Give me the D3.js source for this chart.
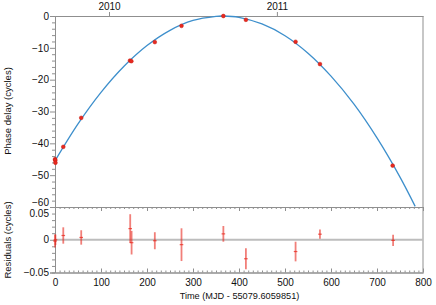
<!DOCTYPE html>
<html>
<head>
<meta charset="utf-8">
<script src="https://cdn.jsdelivr.net/npm/d3@7"></script>
<style>
  body { margin: 0; background: #fff; }
  svg { display: block; font-family: "Liberation Sans", Arial, sans-serif; }
</style>
</head>
<body>
<div id="chart"></div>
<script>
// observed phase delays (days since MJD 55079.6059851, cycles)
const obsTime  = [0, 0.5, 1, 18, 57, 163, 166, 217, 275, 366, 415, 523, 576, 734];
const obsPhase = [-45.0, -45.3, -46.1, -41.1, -32.0, -14.0, -14.2, -8.2, -3.1, 0, -1.2, -8.1, -15.1, -47.0];

// fitted timing model
const fitTime  = [0, 50, 100, 150, 200, 250, 300, 350, 365, 400, 450, 500, 550, 600, 650, 700, 750, 783];
const fitPhase = [-45.5, -33.9, -24.0, -15.8, -9.3, -4.5, -1.4, -0.1, 0, -0.4, -2.5, -6.2, -11.7, -18.9, -27.7, -38.3, -50.6, -59.8];

// residuals and their errors (cycles)
const resTime = [0, 1, 18, 57, 163.5, 166.5, 217, 275, 366, 415, 523, 576, 735];
const resVal  = [-0.002, 0.0, 0.0065, 0.0035, 0.017, -0.0045, -0.0015, -0.0075, 0.009, -0.029, -0.018, 0.0085, -0.001];
const resErr  = [0.010, 0.008, 0.0125, 0.011, 0.022, 0.018, 0.013, 0.025, 0.012, 0.016, 0.015, 0.007, 0.0085];

// calendar years on the top axis
const years = [2010, 2011];
const yearMJD = [55197, 55562];
const mjd0 = 55079.6059851;

const xTicks = [0, 100, 200, 300, 400, 500, 600, 700, 800];
const phaseTicks = [0, -10, -20, -30, -40, -50, -60];
const resTicks = [0.05, 0, -0.05];

const W = 436, H = 305;
const frame = "#8f8f8f";
const red = "#e8291f";
const blue = "#3d8fcc";

const svg = d3.select("#chart").append("svg").attr("width", W).attr("height", H);

const x = d3.scaleLinear().domain([0, 800]).range([55, 423]);
const y = d3.scaleLinear().domain([-60, 0]).range([207, 16]);
const yr = d3.scaleLinear().domain([-0.05, 0.05]).range([272.5, 207]);

const fmt = d => d3.format("")(d).replace("-", "\u2212");

function styleAxis(g) {
  g.select(".domain").attr("stroke", frame);
  g.selectAll(".tick line").attr("stroke", frame);
  g.selectAll(".tick text").attr("fill", "#111").attr("font-size", 10);
}

// minor ticks
const minorX = d3.range(0, 801, 10).filter(v => v % 100 !== 0);
const minorPhase = d3.range(-60, 1, 2).filter(v => v % 10 !== 0);
const minorRes = d3.range(-5, 6, 1).filter(v => v % 5 !== 0).map(v => v / 100);

// left axis, top panel
svg.append("g").attr("transform", "translate(55,0)")
  .call(d3.axisLeft(y).tickValues(minorPhase).tickSize(3).tickFormat(""))
  .call(styleAxis);
const yAx = svg.append("g").attr("transform", "translate(55,0)")
  .call(d3.axisLeft(y).tickValues(phaseTicks).tickSize(5).tickPadding(1).tickFormat(fmt))
  .call(styleAxis);
yAx.selectAll(".tick text").filter(d => d === -60).attr("dy", "-0.18em");

// left axis, residual panel
svg.append("g").attr("transform", "translate(55,0)")
  .call(d3.axisLeft(yr).tickValues(minorRes).tickSize(3).tickFormat(""))
  .call(styleAxis);
const rAx = svg.append("g").attr("transform", "translate(55,0)")
  .call(d3.axisLeft(yr).tickValues(resTicks).tickSize(5).tickPadding(1).tickFormat(d => d === 0 ? "0" : fmt(d)))
  .call(styleAxis);
rAx.selectAll(".tick text").filter(d => d === 0.05).attr("dy", "0.95em");

// divider between panels, ticks hanging down
svg.append("g").attr("transform", "translate(0,207)")
  .call(d3.axisBottom(x).tickValues(minorX).tickSize(2).tickFormat(""))
  .call(styleAxis);
svg.append("g").attr("transform", "translate(0,207)")
  .call(d3.axisBottom(x).tickValues(xTicks).tickSize(4).tickFormat(""))
  .call(styleAxis);

// bottom axis, ticks pointing inward
svg.append("g").attr("transform", "translate(0,272.5)")
  .call(d3.axisBottom(x).tickValues(minorX).tickSizeInner(-2).tickSizeOuter(0).tickFormat(""))
  .call(styleAxis);
const xAx = svg.append("g").attr("transform", "translate(0,272.5)")
  .call(d3.axisBottom(x).tickValues(xTicks).tickSizeInner(-4).tickSizeOuter(0).tickPadding(4).tickFormat(d3.format("d")))
  .call(styleAxis);
xAx.selectAll(".tick text").attr("dy", "0.9em");

// top axis with calendar years
svg.append("g").attr("transform", "translate(0,16)")
  .call(d3.axisTop(x).tickValues(yearMJD.map(m => m - mjd0)).tickSize(4).tickSizeOuter(0).tickPadding(2)
    .tickFormat((d, i) => years[i]))
  .call(styleAxis);

// right frame
svg.append("line")
  .attr("x1", x(800)).attr("x2", x(800)).attr("y1", y(0)).attr("y2", yr(-0.05))
  .attr("stroke", frame);

// fitted curve
svg.append("path")
  .datum(fitTime.map((t, i) => [t, fitPhase[i]]))
  .attr("fill", "none")
  .attr("stroke", blue)
  .attr("stroke-width", 1.3)
  .attr("d", d3.line().x(d => x(d[0])).y(d => y(d[1])).curve(d3.curveCatmullRom));

// observed points
svg.selectAll("circle.obs")
  .data(obsTime.map((t, i) => [t, obsPhase[i]]))
  .enter().append("circle")
  .attr("class", "obs")
  .attr("cx", d => x(d[0]))
  .attr("cy", d => y(d[1]))
  .attr("r", 1.9)
  .attr("fill", red)
  .attr("stroke", "#c41a12")
  .attr("stroke-width", 0.5);

// zero line of the residuals
svg.append("line")
  .attr("x1", x(0)).attr("x2", x(800)).attr("y1", yr(0)).attr("y2", yr(0))
  .attr("stroke", "#bdbdbd").attr("stroke-width", 1.8);

// residual error bars
const res = resTime.map((t, i) => ({ t: t, v: resVal[i], e: resErr[i] }));
const rg = svg.append("g");
rg.selectAll("line.bar").data(res).enter().append("line")
  .attr("class", "bar")
  .attr("x1", d => x(d.t)).attr("x2", d => x(d.t))
  .attr("y1", d => yr(d.v + d.e)).attr("y2", d => yr(d.v - d.e))
  .attr("stroke", red).attr("stroke-opacity", 0.6).attr("stroke-width", 1.8);
rg.selectAll("line.mark").data(res).enter().append("line")
  .attr("class", "mark")
  .attr("x1", d => x(d.t) - 1.8).attr("x2", d => x(d.t) + 1.8)
  .attr("y1", d => yr(d.v)).attr("y2", d => yr(d.v))
  .attr("stroke", red).attr("stroke-opacity", 0.75).attr("stroke-width", 1.2);

// axis titles
svg.append("text")
  .attr("transform", "translate(10.5,111) rotate(-90)")
  .attr("text-anchor", "middle")
  .attr("font-size", 9.5)
  .attr("fill", "#111")
  .text("Phase delay (cycles)");

svg.append("text")
  .attr("transform", "translate(10.5,240) rotate(-90)")
  .attr("text-anchor", "middle")
  .attr("font-size", 9.5)
  .attr("fill", "#111")
  .text("Residuals (cycles)");

svg.append("text")
  .attr("x", 239.5).attr("y", 298.5)
  .attr("text-anchor", "middle")
  .attr("font-size", 9.2)
  .attr("fill", "#111")
  .text("Time (MJD - 55079.6059851)");
</script>
</body>
</html>
